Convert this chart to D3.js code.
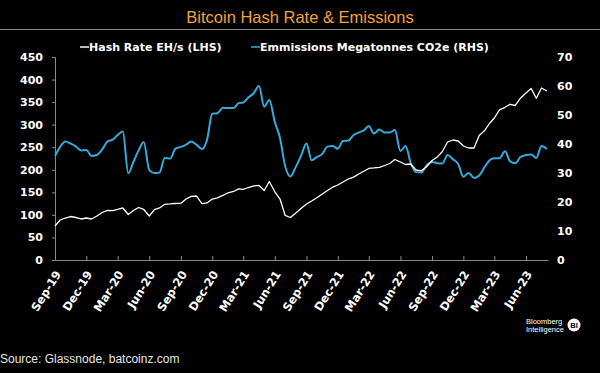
<!DOCTYPE html>
<html>
<head>
<meta charset="utf-8">
<script src="https://cdn.jsdelivr.net/npm/d3@7"></script>
<style>
  html, body { margin: 0; padding: 0; background: #000; }
  svg { display: block; }
  .axis-left text, .axis-right text, .axis-x text {
    font-family: "DejaVu Sans", Verdana, sans-serif;
    font-weight: bold;
    font-size: 11px;
    fill: #fff;
  }
  .axis-x text { font-size: 11.5px; }
  .legend text {
    font-family: "DejaVu Sans", Verdana, sans-serif;
    font-weight: bold;
    font-size: 11px;
    fill: #fff;
  }
</style>
</head>
<body>
<div class="chart-container"></div>
<script>
"use strict";

// Half-monthly sample dates
const dates = [
  "2019-09-01", "2019-09-16", "2019-10-01", "2019-10-16", "2019-11-01", "2019-11-16", "2019-12-01", "2019-12-16",
  "2020-01-01", "2020-01-16", "2020-02-01", "2020-02-16", "2020-03-01", "2020-03-16", "2020-04-01", "2020-04-16",
  "2020-05-01", "2020-05-16", "2020-06-01", "2020-06-16", "2020-07-01", "2020-07-16", "2020-08-01", "2020-08-16",
  "2020-09-01", "2020-09-16", "2020-10-01", "2020-10-16", "2020-11-01", "2020-11-16", "2020-12-01", "2020-12-16",
  "2021-01-01", "2021-01-16", "2021-02-01", "2021-02-16", "2021-03-01", "2021-03-16", "2021-04-01", "2021-04-16",
  "2021-05-01", "2021-05-16", "2021-06-01", "2021-06-16", "2021-07-01", "2021-07-16", "2021-08-01", "2021-08-16",
  "2021-09-01", "2021-09-16", "2021-10-01", "2021-10-16", "2021-11-01", "2021-11-16", "2021-12-01", "2021-12-16",
  "2022-01-01", "2022-01-16", "2022-02-01", "2022-02-16", "2022-03-01", "2022-03-16", "2022-04-01", "2022-04-16",
  "2022-05-01", "2022-05-16", "2022-06-01", "2022-06-16", "2022-07-01", "2022-07-16", "2022-08-01", "2022-08-16",
  "2022-09-01", "2022-09-16", "2022-10-01", "2022-10-16", "2022-11-01", "2022-11-16", "2022-12-01", "2022-12-16",
  "2023-01-01", "2023-01-16", "2023-02-01", "2023-02-16", "2023-03-01", "2023-03-16", "2023-04-01", "2023-04-16",
  "2023-05-01", "2023-05-16", "2023-06-01", "2023-06-16", "2023-07-01", "2023-07-16", "2023-08-01"
];

// Hash rate, EH/s (left axis)
const hashRate = [
  75.4, 88.7, 93.1, 96.4, 94.2, 90.9, 93.1, 90.9,
  97.5, 105.3, 110.2, 109.3, 112.0, 115.3, 100.9, 109.7, 116.4, 112.0, 97.5, 111.5, 115.3, 123.5, 124.2, 125.3,
  125.9, 135.2, 141.0, 141.9, 124.8, 126.4, 135.2, 137.9,
  143.4, 149.0, 151.9, 157.6, 156.7, 160.7, 164.1, 165.2, 154.1, 174.0, 151.2, 135.2, 98.7, 94.2, 104.2, 114.2,
  124.2, 130.8, 137.9, 145.7, 153.9, 161.4, 166.3, 172.9,
  179.6, 183.6, 191.1, 197.3, 202.9, 204.0, 205.5, 209.5, 213.9, 222.8, 217.3, 211.7, 212.8, 199.5, 197.8, 206.6,
  220.6, 228.4, 240.5, 261.6, 266.0, 263.8, 252.7, 248.3,
  248.3, 276.0, 287.1, 303.7, 314.8, 332.6, 338.5, 345.2, 342.5, 358.7, 370.2, 380.2, 358.5, 381.3, 374.7
];

// Emissions, megatonnes CO2e (right axis)
const emissions = [
  35.9, 39.0, 40.9, 40.2, 39.1, 37.8, 37.9, 35.9,
  36.2, 38.1, 40.9, 41.5, 43.1, 44.3, 29.9, 33.8, 37.8, 40.7, 31.0, 30.0, 30.2, 35.2, 35.0, 38.4,
  39.0, 39.8, 40.9, 39.8, 38.3, 41.5, 50.4, 50.6,
  52.5, 52.4, 52.4, 54.1, 54.3, 56.0, 57.6, 60.0, 52.9, 55.2, 47.6, 42.1, 32.4, 28.8, 32.1, 35.9,
  40.2, 34.4, 35.5, 36.5, 39.1, 39.3, 38.4, 41.0,
  41.2, 43.1, 44.0, 44.8, 46.2, 43.6, 45.0, 44.0, 44.0, 44.8, 37.6, 39.3, 33.4, 30.3, 30.2, 32.6,
  33.8, 33.4, 33.3, 36.2, 34.7, 33.1, 28.7, 30.0,
  28.3, 29.1, 32.1, 34.5, 35.1, 35.1, 37.5, 34.0, 33.4, 35.5, 36.2, 36.4, 35.2, 39.3, 38.3
];

const leftTicks = [0, 50, 100, 150, 200, 250, 300, 350, 400, 450];
const rightTicks = [0, 10, 20, 30, 40, 50, 60, 70];
const xTickDates = [
  "2019-09-01", "2019-12-01", "2020-03-01", "2020-06-01", "2020-09-01", "2020-12-01",
  "2021-03-01", "2021-06-01", "2021-09-01", "2021-12-01", "2022-03-01", "2022-06-01",
  "2022-09-01", "2022-12-01", "2023-03-01", "2023-06-01"
];

const title = "Bitcoin Hash Rate & Emissions";
const legendLabels = ["Hash Rate EH/s (LHS)", "Emmissions Megatonnes CO2e (RHS)"];
const source = "Source: Glassnode, batcoinz.com";

const parseDate = d3.timeParse("%Y-%m-%d");
const data = dates.map((d, i) => ({
  date: parseDate(d),
  hash: hashRate[i],
  co2: emissions[i]
}));

drawChart(data);

function drawChart(data) {
  const width = 600;
  const height = 373;
  const left = 55;
  const right = 548;
  const top = 57;
  const bottom = 260;

  const blue = "#36aadb";

  const svg = d3.select(".chart-container")
    .append("svg")
      .attr("width", width)
      .attr("height", height)
      .style("background", "#000");

  // Title and rule under it
  svg.append("text")
    .attr("x", 300)
    .attr("y", 23)
    .attr("text-anchor", "middle")
    .attr("font-family", "'Liberation Sans', Arial, sans-serif")
    .attr("font-size", 16.5)
    .attr("fill", "#f2a23e")
    .text(title);

  svg.append("line")
    .attr("x1", 0)
    .attr("x2", width)
    .attr("y1", 29.5)
    .attr("y2", 29.5)
    .attr("stroke", "#8a8a8a")
    .attr("stroke-width", 1);

  // Scales
  const xScale = d3.scaleTime()
    .domain([parseDate("2019-09-01"), parseDate("2023-08-04")])
    .range([left, right]);

  const yLeft = d3.scaleLinear()
    .domain([0, 450])
    .range([bottom, top]);

  const yRight = d3.scaleLinear()
    .domain([0, 70])
    .range([bottom, top]);

  // Axes
  const xAxis = d3.axisBottom(xScale)
    .tickValues(xTickDates.map(parseDate))
    .tickFormat(d3.timeFormat("%b-%y"))
    .tickSizeInner(-4)
    .tickSizeOuter(0);

  const gx = svg.append("g")
    .attr("class", "axis-x")
    .attr("transform", `translate(0, ${bottom})`)
    .call(xAxis);

  gx.select(".domain").attr("stroke", "#8a8a8a");
  gx.selectAll(".tick line").attr("stroke", "#8a8a8a");
  gx.selectAll(".tick text")
    .attr("text-anchor", "end")
    .attr("y", 0)
    .attr("dy", 0)
    .attr("transform", "translate(6, 14) rotate(-58)");

  const gl = svg.append("g")
    .attr("class", "axis-left")
    .attr("transform", `translate(${left}, 0)`)
    .call(d3.axisLeft(yLeft).tickValues(leftTicks).tickSize(3).tickPadding(9));

  gl.select(".domain").attr("stroke", "#8a8a8a");
  gl.selectAll(".tick line").attr("stroke", "#8a8a8a");

  const gr = svg.append("g")
    .attr("class", "axis-right")
    .attr("transform", `translate(${right}, 0)`)
    .call(d3.axisRight(yRight).tickValues(rightTicks).tickSize(0).tickPadding(9));

  gr.select(".domain").remove();

  // Lines
  const co2Line = d3.line()
    .x(d => xScale(d.date))
    .y(d => yRight(d.co2))
    .curve(d3.curveMonotoneX);

  const hashLine = d3.line()
    .x(d => xScale(d.date))
    .y(d => yLeft(d.hash));

  svg.append("path")
    .attr("d", co2Line(data))
    .attr("fill", "none")
    .attr("stroke", blue)
    .attr("stroke-width", 2);

  svg.append("path")
    .attr("d", hashLine(data))
    .attr("fill", "none")
    .attr("stroke", "#fff")
    .attr("stroke-width", 1.3)
    .attr("stroke-linejoin", "round");

  // Legend
  const legend = svg.append("g").attr("class", "legend");
  const legendItems = [
    { label: legendLabels[0], color: "#fff", x: 80 },
    { label: legendLabels[1], color: blue, x: 251 }
  ];

  legendItems.forEach(item => {
    legend.append("line")
      .attr("x1", item.x)
      .attr("x2", item.x + 9)
      .attr("y1", 47)
      .attr("y2", 47)
      .attr("stroke", item.color)
      .attr("stroke-width", 1.5);
    legend.append("text")
      .attr("x", item.x + 9)
      .attr("y", 51)
      .text(item.label);
  });

  // Source
  svg.append("text")
    .attr("x", 0)
    .attr("y", 363)
    .attr("font-family", "'Liberation Sans', Arial, sans-serif")
    .attr("font-size", 12)
    .attr("fill", "#e6e6e6")
    .text(source);

  // Bloomberg Intelligence mark
  const logo = svg.append("g")
    .attr("font-family", "'Liberation Sans', Arial, sans-serif")
    .attr("fill", "#fff");

  logo.append("text")
    .attr("x", 526)
    .attr("y", 324)
    .attr("font-size", 7.5)
    .text("Bloomberg");

  logo.append("text")
    .attr("x", 526)
    .attr("y", 332)
    .attr("font-size", 7.5)
    .text("Intelligence");

  logo.append("circle")
    .attr("cx", 574)
    .attr("cy", 325)
    .attr("r", 6.5)
    .attr("fill", "#fff");

  logo.append("text")
    .attr("x", 574)
    .attr("y", 328)
    .attr("text-anchor", "middle")
    .attr("font-size", 7.5)
    .attr("font-weight", "bold")
    .attr("fill", "#000")
    .text("BI");
}
</script>
</body>
</html>
